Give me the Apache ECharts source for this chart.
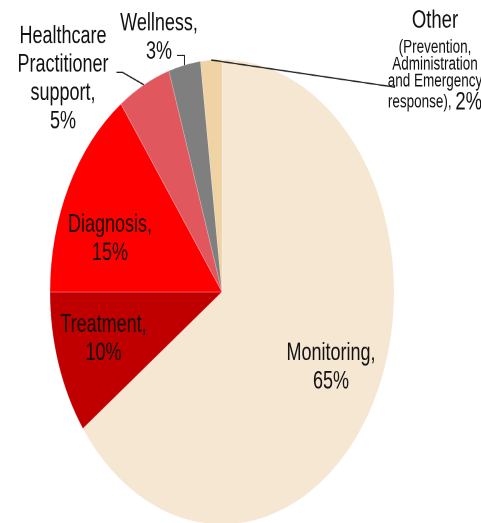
<!DOCTYPE html>
<html>
<head>
<meta charset="utf-8">
<script src="https://cdn.jsdelivr.net/npm/echarts@6/dist/echarts.min.js"></script>
<style>
html,body{margin:0;padding:0;background:#fff;overflow:hidden;}
#wrap{width:481px;height:523px;overflow:hidden;position:relative;background:#fff;}
#chart{width:481px;height:387px;transform:scaleY(1.3514);transform-origin:0 0;}
</style>
</head>
<body>
<div id="wrap"><div id="chart"></div></div>
<script>
// ---- data ----
const categories = ['Monitoring', 'Treatment', 'Diagnosis', 'Healthcare Practitioner support', 'Wellness', 'Other (Prevention, Administration and Emergency response)'];
const shares = [65, 10, 15, 5, 3, 2];
const labelTexts = ['Monitoring,', 'Treatment,', 'Diagnosis,', 'Healthcare\nPractitioner\nsupport,', 'Wellness,', 'Other'];
const otherDetail = ['(Prevention,', 'Administration', 'and Emergency', 'response),'];

// ---- styles / layout ----
const sliceColors = ['#F6E7D3', '#C00000', '#FF0000', '#E0575E', '#7F7F7F', '#EFD3A4'];
const labelCenters = [[331, 272.2], [103.5, 251.2], [110, 177], [63, 58.5], [159, 28], [435, 43]];
const FONT = '"Liberation Sans", Arial, sans-serif';
const PIE_CENTER = [222, 216];
const PIE_RADIUS = 172;

function fmt(p) {
  const i = p.dataIndex;
  if (i === 5) {
    return '{big1|' + labelTexts[5] + '}\n' +
      otherDetail.slice(0, 3).map(function (s) { return '{sm|' + s + '}'; }).join('\n') +
      '\n{sm|' + otherDetail[3] + ' }{big2|' + p.value + '%}';
  }
  return labelTexts[i].split('\n').map(function (s) { return '{t|' + s + '}'; }).join('\n') +
    '\n{t|' + p.value + '%}';
}

const chart = echarts.init(document.getElementById('chart'), null, { renderer: 'canvas', devicePixelRatio: 2 });

function sliceAnchor(i, fallback) {
  try {
    const L = chart.getModel().getSeriesByIndex(1).getData().getItemLayout(i);
    if (L && L.r != null) {
      const mid = (L.startAngle + L.endAngle) / 2;
      return [L.cx + L.r * Math.cos(mid), L.cy + L.r * Math.sin(mid)];
    }
  } catch (e) {}
  return fallback;
}

chart.setOption({
  backgroundColor: '#fff',
  animation: false,
  series: [{
    // slices
    type: 'pie',
    z: 2,
    center: PIE_CENTER,
    radius: PIE_RADIUS,
    startAngle: 90,
    clockwise: true,
    silent: true,
    label: { show: false },
    labelLine: { show: false },
    itemStyle: { borderColor: 'rgba(255,255,255,0.35)', borderWidth: 0.6 },
    data: categories.map(function (n, i) {
      return { name: n, value: shares[i], itemStyle: { color: sliceColors[i] } };
    })
  }, {
    // labels and leader lines drawn above the slices
    type: 'pie',
    z: 5,
    center: PIE_CENTER,
    radius: PIE_RADIUS,
    startAngle: 90,
    clockwise: true,
    silent: true,
    avoidLabelOverlap: false,
    itemStyle: { color: 'rgba(0,0,0,0)', borderWidth: 0 },
    data: categories.map(function (n, i) {
      return {
        name: n,
        value: shares[i],
        label: { position: i < 3 ? 'inside' : 'outside' },
        labelLine: { show: i >= 3 }
      };
    }),
    label: {
      formatter: fmt,
      color: '#111',
      fontFamily: FONT,
      fontSize: 18,
      rich: {
        t: { fontFamily: FONT, fontSize: 18, lineHeight: 21, color: '#111', align: 'center' },
        big1: { fontFamily: FONT, fontSize: 18.5, lineHeight: 28, color: '#111', align: 'center' },
        big2: { fontFamily: FONT, fontSize: 18.5, lineHeight: 18, color: '#111', align: 'center' },
        sm: { fontFamily: FONT, fontSize: 13.5, lineHeight: 12.5, color: '#111', align: 'center' }
      }
    },
    labelLine: { length: 8, length2: 8, lineStyle: { color: '#222', width: 1 } },
    labelLayout: function (p) {
      const i = p.dataIndex;
      const c = labelCenters[i];
      const w = p.labelRect.width;
      const res = { x: c[0], y: c[1], align: 'center', verticalAlign: 'middle', hideOverlap: false };
      const pts = p.labelLinePoints;
      if (i >= 3) {
        const a = sliceAnchor(i, pts && pts[0]);
        if (a) {
          if (i === 3) {
            res.labelLinePoints = [[a[0], a[1]], [c[0] + w / 2 + 14, c[1] - 5], [c[0] + w / 2 + 8, c[1] - 5]];
          } else if (i === 4) {
            res.labelLinePoints = [[a[0], a[1]], [a[0], c[1] + 13], [c[0] + 18, c[1] + 13]];
          } else if (i === 5) {
            res.labelLinePoints = [[a[0], a[1]], [c[0] - 40, c[1] + 21.5]];
          }
        }
      }
      return res;
    }
  }]
});
</script>
</body>
</html>
